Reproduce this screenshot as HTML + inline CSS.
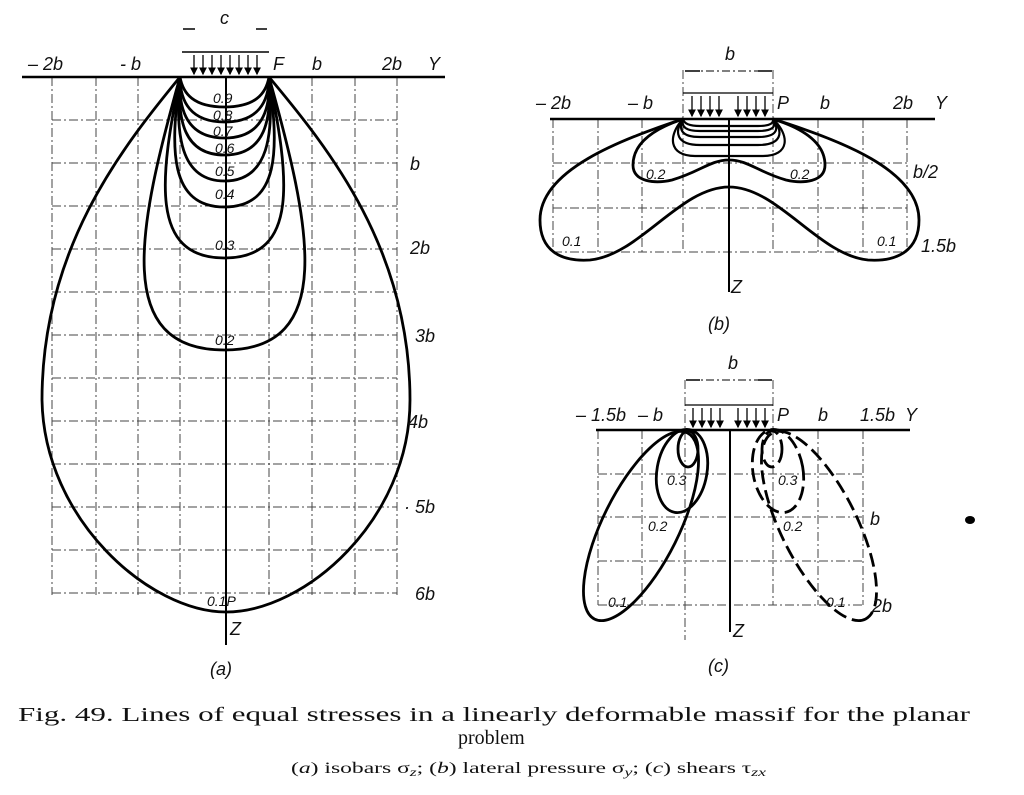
<!DOCTYPE html>
<html><head><meta charset="utf-8"><style>
html,body{margin:0;padding:0;background:#fff;}
svg{display:block}
.l{font-family:"Liberation Sans",sans-serif;font-style:italic;font-size:18px;fill:#111}
.s{font-family:"Liberation Sans",sans-serif;font-style:italic;font-size:14px;fill:#111}
.g{stroke:#444;stroke-width:1;stroke-dasharray:9 3 2 3;fill:none}
.c{stroke:#000;stroke-width:2.8;fill:none}
.t{stroke:#000;stroke-width:2.2;fill:none}
.cap{font-family:"Liberation Serif",serif;fill:#111}
</style></head><body>
<svg width="1024" height="795" viewBox="0 0 1024 795" xmlns="http://www.w3.org/2000/svg">
<defs><marker id="ar" markerWidth="6" markerHeight="6" refX="5" refY="3" orient="auto"><path d="M0,0 L6,3 L0,6 z" fill="#000"/></marker></defs>

<!-- ============ PANEL A ============ -->
<g class="g">
<path d="M52,77V595 M96,77V595 M138,77V595 M180,77V595 M269,77V595 M312,77V595 M355,77V595 M397,77V595"/>
<path d="M52,120H397 M52,163H397 M52,206H397 M52,249H397 M52,292H397 M52,335H397 M52,378H397 M52,421H397 M52,464H397 M52,507H397 M52,550H397 M52,593H397"/>
</g>
<line x1="22" y1="77" x2="445" y2="77" stroke="#000" stroke-width="2.4"/>
<line x1="226" y1="77" x2="226" y2="645" stroke="#000" stroke-width="2"/>
<line x1="182" y1="52" x2="269" y2="52" stroke="#000" stroke-width="1.6"/>
<g stroke="#000" stroke-width="1.3" marker-end="url(#ar)">
<line x1="194" y1="55" x2="194" y2="74"/><line x1="203" y1="55" x2="203" y2="74"/><line x1="212" y1="55" x2="212" y2="74"/><line x1="221" y1="55" x2="221" y2="74"/><line x1="230" y1="55" x2="230" y2="74"/><line x1="239" y1="55" x2="239" y2="74"/><line x1="248" y1="55" x2="248" y2="74"/><line x1="257" y1="55" x2="257" y2="74"/>
</g>
<g stroke="#000" stroke-width="1.5"><line x1="183" y1="29" x2="195" y2="29"/><line x1="256" y1="29" x2="267" y2="29"/></g>
<path d="M180,77 C120,150 42,250 42,400 C44,520 150,612 226,612 C305,612 410,520 410,400 C410,250 330,150 269,77" class="c"/>
<path d="M180,77 C138,227 112,350 224.5,350 C337,350 311,227 269,77" class="c"/>
<path d="M180,77 C160,177 149,258 224.5,258 C300,258 289,177 269,77" class="c"/>
<path d="M180,77 C170,149 169,207 224.5,207 C280,207 279,149 269,77" class="c"/>
<path d="M180,77 C175,134 180,181 224.5,181 C269,181 274,134 269,77" class="c"/>
<path d="M180,77 C177,120 184,155 224.5,155 C265,155 272,120 269,77" class="c"/>
<path d="M180,77 C178,111 188,138 224.5,138 C261,138 271,111 269,77" class="c"/>
<path d="M180,77 C180,102 191,122 224.5,122 C258,122 269,102 269,77" class="c"/>
<path d="M180,77 C183,94 194,107 224.5,107 C255,107 266,94 269,77" class="c"/>
<g class="s">
<text x="213" y="103">0.9</text><text x="213" y="120">0.8</text><text x="213" y="136">0.7</text><text x="215" y="153">0.6</text>
<text x="215" y="176">0.5</text><text x="215" y="199">0.4</text><text x="215" y="250">0.3</text><text x="215" y="345">0.2</text><text x="207" y="606">0.1P</text>
</g>
<g class="l">
<text x="28" y="70">– 2b</text><text x="120" y="70">- b</text><text x="220" y="24">c</text><text x="273" y="70">F</text><text x="312" y="70">b</text><text x="382" y="70">2b</text><text x="428" y="70">Y</text>
<text x="410" y="170">b</text><text x="410" y="254">2b</text><text x="415" y="342">3b</text><text x="408" y="428">4b</text><text x="404" y="513">· 5b</text><text x="415" y="600">6b</text>
<text x="230" y="635">Z</text><text x="210" y="675">(a)</text>
</g>

<!-- ============ PANEL B ============ -->
<g class="g">
<path d="M553,119V252 M598,119V252 M642,119V252 M683,70V252 M773,70V252 M818,119V252 M863,119V252 M907,119V252"/>
<path d="M553,163H907 M553,208H907 M553,252H907"/>
</g>
<line x1="550" y1="119" x2="935" y2="119" stroke="#000" stroke-width="2.4"/>
<line x1="729" y1="119" x2="729" y2="292" stroke="#000" stroke-width="2"/>
<line x1="683" y1="93" x2="773" y2="93" stroke="#000" stroke-width="1.2"/>
<line x1="690" y1="71" x2="766" y2="71" stroke="#000" stroke-width="1" stroke-dasharray="8 3 2 3"/>
<g stroke="#000" stroke-width="1.5"><line x1="685" y1="71" x2="700" y2="71"/><line x1="758" y1="71" x2="772" y2="71"/></g>
<g stroke="#000" stroke-width="1.3" marker-end="url(#ar)">
<line x1="692" y1="96" x2="692" y2="116"/><line x1="701" y1="96" x2="701" y2="116"/><line x1="710" y1="96" x2="710" y2="116"/><line x1="719" y1="96" x2="719" y2="116"/><line x1="738" y1="96" x2="738" y2="116"/><line x1="747" y1="96" x2="747" y2="116"/><line x1="756" y1="96" x2="756" y2="116"/><line x1="765" y1="96" x2="765" y2="116"/>
</g>
<path d="M683,119 C620,140 540,170 540,220 C540,250 560,262 590,260 C640,255 680,187 729,187 C778,187 818,255 868,260 C898,262 919,250 919,220 C919,170 840,140 773,119" class="c"/>
<path d="M683,119 C650,130 633,145 633,165 C633,182 655,184 672,180 C700,172 710,160 729,160 C748,160 758,172 786,180 C803,184 825,182 825,165 C825,145 808,130 773,119" class="c"/>
<path d="M683,119 C668,135 668,156 695,156 L763,156 C790,156 790,135 773,119" class="t"/>
<path d="M683,119 C674,132 676,145 700,145 L758,145 C782,145 784,132 773,119" class="t"/>
<path d="M683,119 C678,130 682,137 700,137 L758,137 C776,137 780,130 773,119" class="t"/>
<path d="M683,119 C681,127 686,131 700,131 L758,131 C772,131 777,127 773,119" class="t"/>
<path d="M683,119 C684,124 690,126 700,126 L758,126 C768,126 774,124 773,119" class="t"/>
<g class="s"><text x="646" y="179">0.2</text><text x="790" y="179">0.2</text><text x="562" y="246">0.1</text><text x="877" y="246">0.1</text></g>
<g class="l">
<text x="536" y="109">– 2b</text><text x="628" y="109">– b</text><text x="777" y="109">P</text><text x="820" y="109">b</text><text x="893" y="109">2b</text><text x="935" y="109">Y</text>
<text x="725" y="60">b</text><text x="913" y="178">b/2</text><text x="921" y="252">1.5b</text><text x="731" y="293">Z</text><text x="708" y="330">(b)</text>
</g>

<!-- ============ PANEL C ============ -->
<g class="g">
<path d="M598,430V605 M642,430V605 M685,380V640 M773,380V605 M818,430V605 M863,430V605"/>
<path d="M598,474H863 M598,517H863 M598,561H863 M598,605H863"/>
</g>
<line x1="596" y1="430" x2="910" y2="430" stroke="#000" stroke-width="2.4"/>
<line x1="730" y1="430" x2="730" y2="632" stroke="#000" stroke-width="2"/>
<line x1="685" y1="405" x2="773" y2="405" stroke="#000" stroke-width="1.2"/>
<line x1="690" y1="380" x2="768" y2="380" stroke="#000" stroke-width="1" stroke-dasharray="8 3 2 3"/>
<g stroke="#000" stroke-width="1.5"><line x1="686" y1="380" x2="700" y2="380"/><line x1="758" y1="380" x2="772" y2="380"/></g>
<g stroke="#000" stroke-width="1.3" marker-end="url(#ar)">
<line x1="693" y1="408" x2="693" y2="427"/><line x1="702" y1="408" x2="702" y2="427"/><line x1="711" y1="408" x2="711" y2="427"/><line x1="720" y1="408" x2="720" y2="427"/><line x1="738" y1="408" x2="738" y2="427"/><line x1="747" y1="408" x2="747" y2="427"/><line x1="756" y1="408" x2="756" y2="427"/><line x1="765" y1="408" x2="765" y2="427"/>
</g>
<ellipse cx="641" cy="526" rx="104" ry="38" transform="rotate(-63.5 641 526)" class="c"/>
<ellipse cx="682" cy="471" rx="25" ry="42" transform="rotate(10 682 471)" class="c"/>
<ellipse cx="688" cy="449" rx="10" ry="18" class="c"/>
<g stroke-dasharray="14 6">
<ellipse cx="819" cy="526" rx="104" ry="38" transform="rotate(63.5 819 526)" class="c"/>
<ellipse cx="778" cy="471" rx="25" ry="42" transform="rotate(-10 778 471)" class="c"/>
<ellipse cx="772" cy="449" rx="10" ry="18" class="c"/>
</g>
<g class="s"><text x="667" y="485">0.3</text><text x="648" y="531">0.2</text><text x="608" y="607">0.1</text><text x="778" y="485">0.3</text><text x="783" y="531">0.2</text><text x="826" y="607">0.1</text></g>
<g class="l">
<text x="576" y="421">– 1.5b</text><text x="638" y="421">– b</text><text x="777" y="421">P</text><text x="818" y="421">b</text><text x="860" y="421">1.5b</text><text x="905" y="421">Y</text>
<text x="728" y="369">b</text><text x="870" y="525">b</text><text x="872" y="612">2b</text><text x="733" y="637">Z</text><text x="708" y="672">(c)</text>
</g>
<ellipse cx="970" cy="520" rx="5" ry="4" fill="#000"/>

<!-- ============ CAPTION ============ -->
<text class="cap" x="18" y="721" font-size="20" textLength="952" lengthAdjust="spacingAndGlyphs">Fig. 49. Lines of equal stresses in a linearly deformable massif for the planar</text>
<text class="cap" x="458" y="744" font-size="20">problem</text>
<text class="cap" x="291" y="773" font-size="16" textLength="475" lengthAdjust="spacingAndGlyphs">(<tspan font-style="italic">a</tspan>) isobars σ<tspan font-style="italic" font-size="12" dy="3">z</tspan><tspan dy="-3">; (</tspan><tspan font-style="italic">b</tspan>) lateral pressure σ<tspan font-style="italic" font-size="12" dy="3">y</tspan><tspan dy="-3">; (</tspan><tspan font-style="italic">c</tspan>) shears τ<tspan font-style="italic" font-size="12" dy="3">zx</tspan></text>
</svg>
</body></html>
